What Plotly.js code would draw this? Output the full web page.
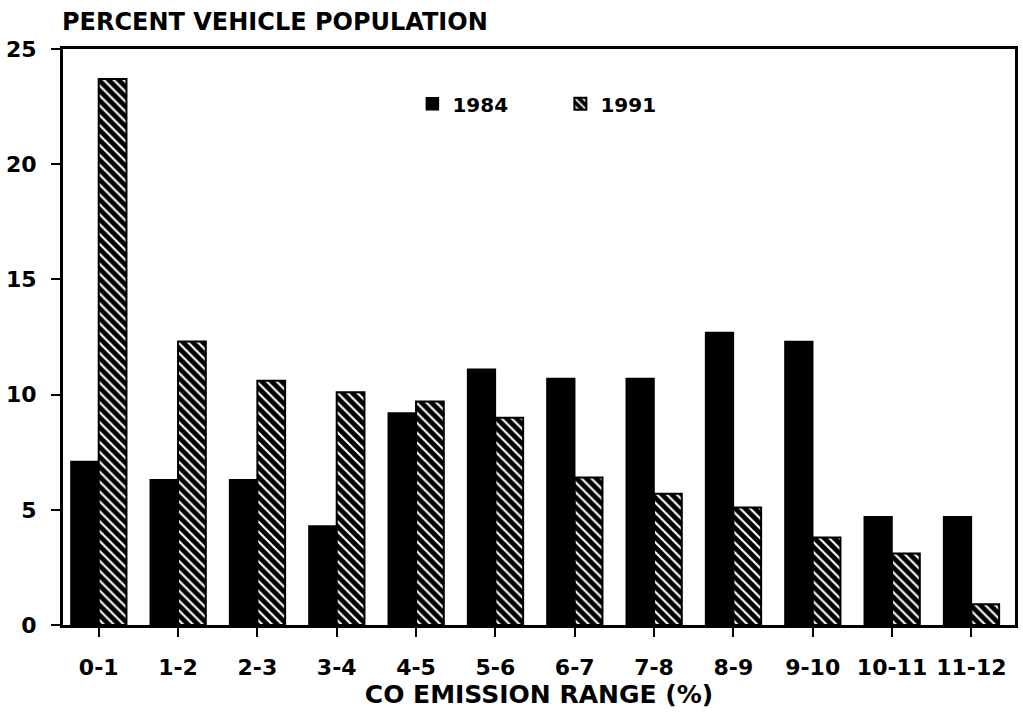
<!DOCTYPE html>
<html>
<head>
<meta charset="utf-8">
<script src="https://cdn.plot.ly/plotly-3.0.1.min.js"></script>
<style>html,body{margin:0;padding:0;background:#fff;}#chart{width:1023px;height:719px;}</style>
</head>
<body>
<div id="chart"></div>
<script>
const categories = ["0-1","1-2","2-3","3-4","4-5","5-6","6-7","7-8","8-9","9-10","10-11","11-12"];
const values1984 = [7.1, 6.3, 6.3, 4.3, 9.2, 11.1, 10.7, 10.7, 12.7, 12.3, 4.7, 4.7];
const values1991 = [23.7, 12.3, 10.6, 10.1, 9.7, 9.0, 6.4, 5.7, 5.1, 3.8, 3.1, 0.9];
const seriesNames = ["1984", "1991"];
const yTicks = [0, 5, 10, 15, 20, 25];

const fontFamily = "'DejaVu Sans', 'Liberation Sans', Arial, sans-serif";

const traces = [
  {
    type: "bar", name: seriesNames[0], x: categories, y: values1984,
    marker: { color: "#000", line: { color: "#000", width: 1.5 } },
    hoverinfo: "x+y+name"
  },
  {
    type: "bar", name: seriesNames[1], x: categories, y: values1991,
    marker: {
      color: "#000",
      line: { color: "#000", width: 2 },
      pattern: { shape: "\\", fgcolor: "#fff", bgcolor: "#000", size: 7, solidity: 0.3, fillmode: "replace" }
    },
    hoverinfo: "x+y+name"
  }
];

const layout = {
  width: 1023, height: 719,
  paper_bgcolor: "#fff", plot_bgcolor: "#fff",
  margin: { l: 63, r: 8, t: 49, b: 94 },
  barmode: "group", bargap: 0.3, bargroupgap: 0,
  showlegend: true,
  font: { family: fontFamily, color: "#000", size: 19, weight: "bold" },
  title: {
    text: "PERCENT VEHICLE POPULATION",
    x: 62/1023, xanchor: "left", xref: "container",
    y: 1 - 22/719, yanchor: "middle", yref: "container",
    font: { family: fontFamily, size: 24, weight: "bold", color: "#000" }
  },
  legend: {
    orientation: "h", x: 0.367, xanchor: "left", y: 0.905, yanchor: "middle",
    font: { family: fontFamily, size: 20, weight: "bold", color: "#000" },
    bgcolor: "rgba(0,0,0,0)", entrywidth: 103, entrywidthmode: "pixels", traceorder: "normal"
  },
  xaxis: {
    type: "category",
    range: [-0.45, 11.55],
    showline: true, linecolor: "#000", linewidth: 3, mirror: true,
    ticks: "outside", ticklen: 9, tickwidth: 2, tickcolor: "#000",
    ticklabelstandoff: 12,
    tickfont: { family: fontFamily, size: 22, weight: "bold", color: "#000" },
    showgrid: false, zeroline: false,
    title: { text: "CO EMISSION RANGE (%)", standoff: 6,
      font: { family: fontFamily, size: 25, weight: "bold", color: "#000" } }
  },
  yaxis: {
    range: [0, 25],
    tickvals: yTicks,
    showline: true, linecolor: "#000", linewidth: 3, mirror: true,
    ticks: "outside", ticklen: 9, tickwidth: 2, tickcolor: "#000",
    ticklabelstandoff: 10,
    tickfont: { family: fontFamily, size: 22, weight: "bold", color: "#000" },
    showgrid: false, zeroline: false
  }
};

Plotly.newPlot("chart", traces, layout, { displayModeBar: false, staticPlot: true });
</script>
</body>
</html>
